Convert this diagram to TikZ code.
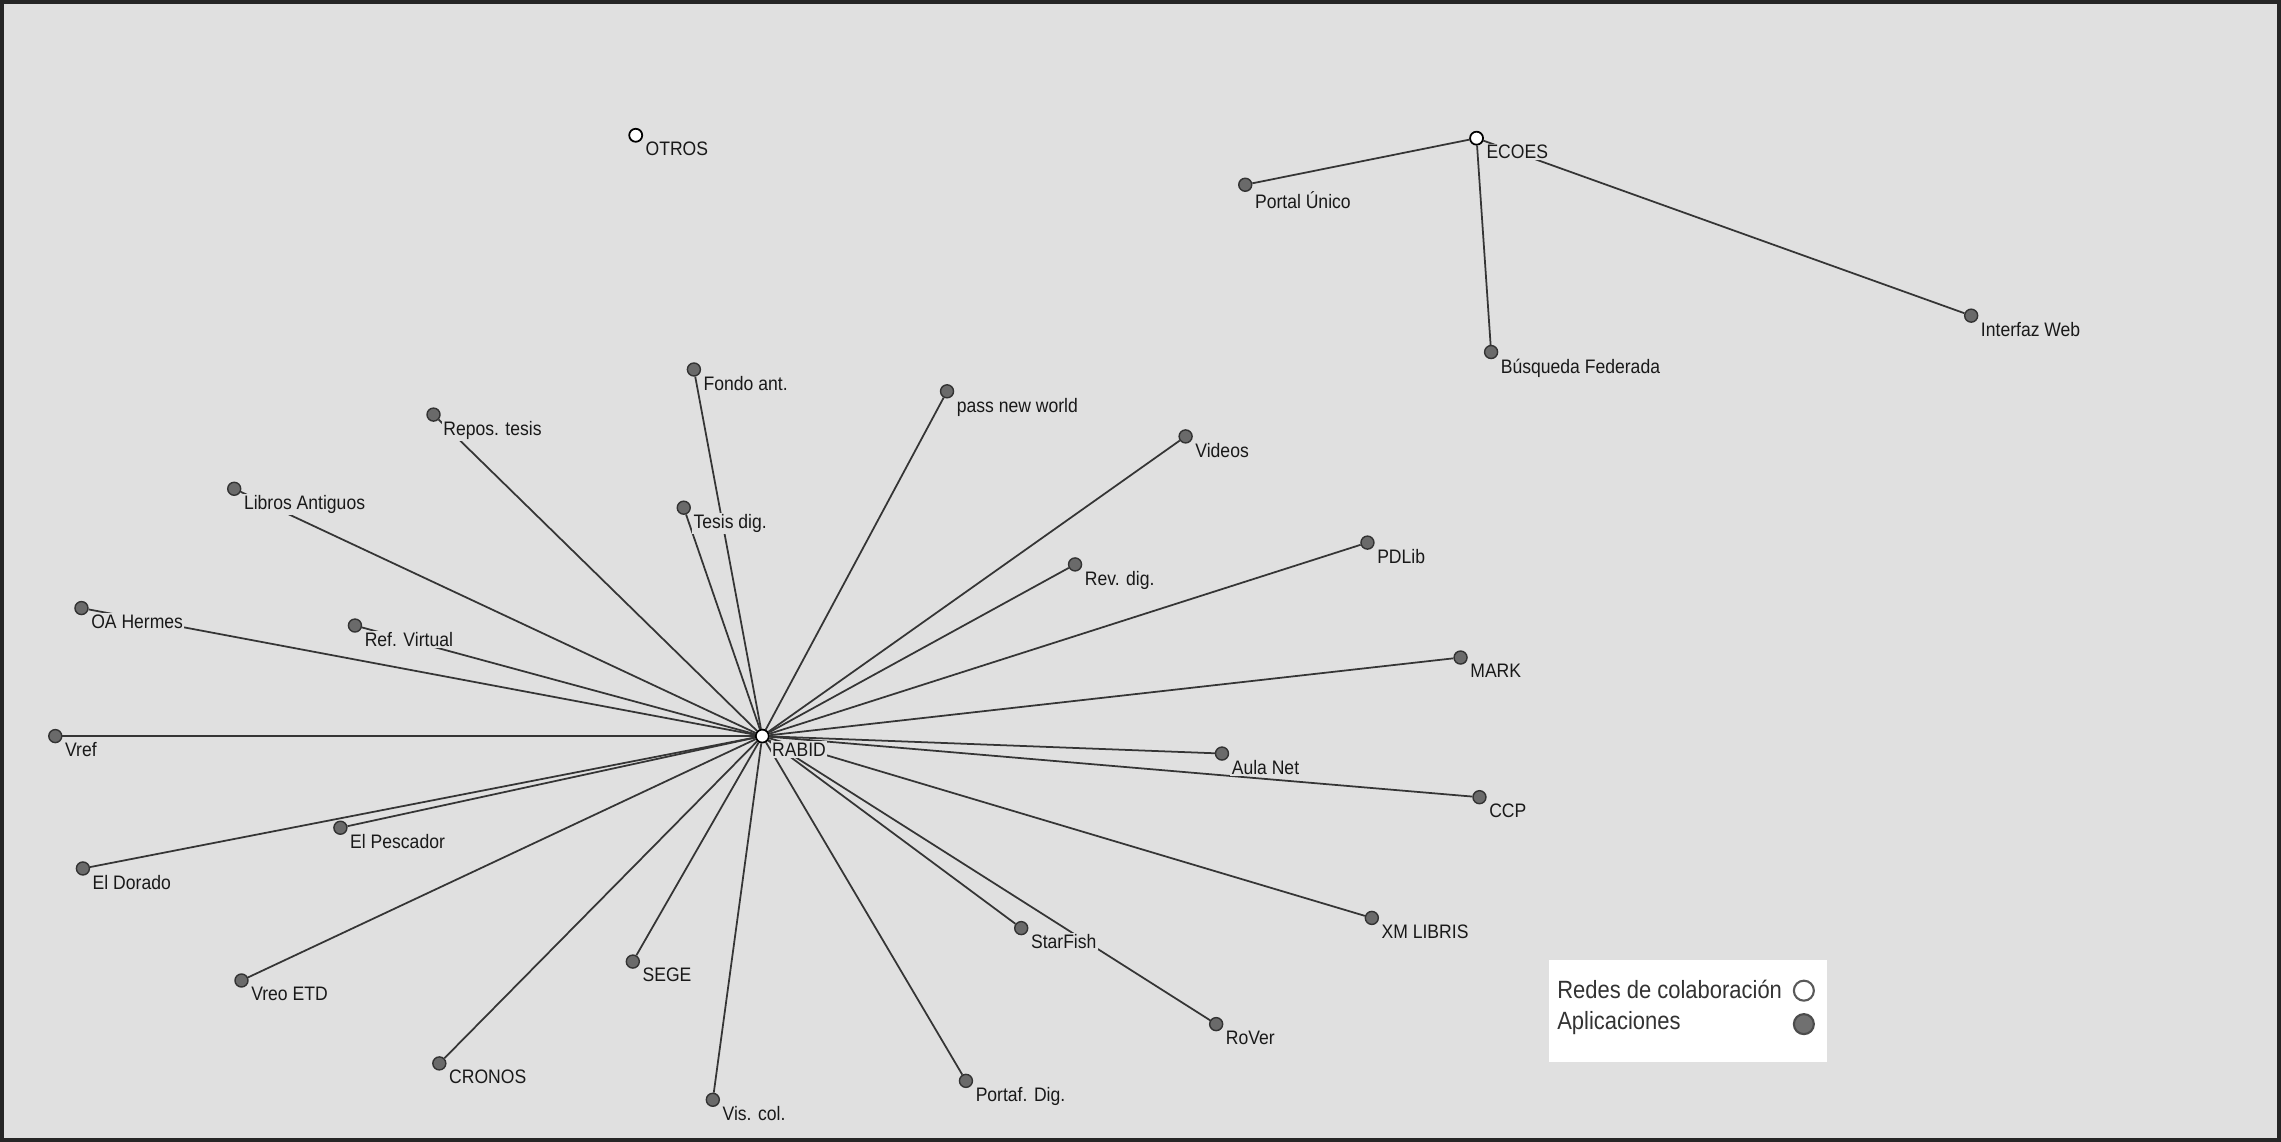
\documentclass[tikz,border=0pt]{standalone}
\usepackage{fontspec}
\setmainfont{Liberation Sans}
\newfontfamily\netfont[FakeStretch=0.9]{Liberation Sans}
\newfontfamily\legfont[FakeStretch=0.88]{Liberation Sans}
\usetikzlibrary{positioning, backgrounds}
\definecolor{canvas}{HTML}{E0E0E0}
\definecolor{edgegray}{HTML}{353535}
\definecolor{appgray}{HTML}{6A6A6A}
\definecolor{leggray}{HTML}{707070}

\begin{document}
\begin{tikzpicture}[x=0.014547cm, y=-0.014547cm,
  netnode/.style={circle, draw=black, fill=white, line width=0.5pt, minimum size=0.13cm, inner sep=0pt},
  appnode/.style={circle, draw=black!80, fill=appgray, line width=0.4pt, minimum size=0.13cm, inner sep=0pt},
  lab/.style={font=\netfont\fontsize{5.55}{6}\selectfont, fill=canvas, inner sep=0.4pt, label distance=0.2pt, xshift=0.6pt, yshift=0.3pt, text=black!90},
  link/.style={draw=edgegray, line width=0.5pt},
  legtext/.style={font=\legfont\fontsize{7.1}{8}\selectfont, text=black!80, inner sep=0pt, anchor=west},
  legdot/.style={circle, line width=0.6pt, minimum size=0.2cm, inner sep=0pt}
]
\useasboundingbox (0,0) rectangle (1568,785);

\node[netnode, label={[lab]south east:OTROS}] (otros) at (437,93) {};
\node[netnode, label={[lab]south east:ECOES}] (ecoes) at (1015,95) {};
\node[appnode, label={[lab]south east:Portal Único}] (portal) at (856,127) {};
\node[appnode, label={[lab]south east:Búsqueda Federada}] (busqueda) at (1025,242) {};
\node[appnode, label={[lab]south east:Interfaz Web}] (interfaz) at (1355,217) {};

\node[netnode, label={[lab]south east:RABID}] (rabid) at (524,506) {};
\node[appnode, label={[lab]south east:Fondo ant.}] (fondo) at (477,254) {};
\node[appnode, label={[lab]south east:pass new world}] (pass) at (651,269) {};
\node[appnode, label={[lab]south east:Repos. tesis}] (repos) at (298,285) {};
\node[appnode, label={[lab]south east:Videos}] (videos) at (815,300) {};
\node[appnode, label={[lab]south east:Libros Antiguos}] (libros) at (161,336) {};
\node[appnode, label={[lab]south east:Tesis dig.}] (tesis) at (470,349) {};
\node[appnode, label={[lab]south east:PDLib}] (pdlib) at (940,373) {};
\node[appnode, label={[lab]south east:Rev. dig.}] (revdig) at (739,388) {};
\node[appnode, label={[lab]south east:OA Hermes}] (hermes) at (56,418) {};
\node[appnode, label={[lab]south east:Ref. Virtual}] (refvirt) at (244,430) {};
\node[appnode, label={[lab]south east:MARK}] (mark) at (1004,452) {};
\node[appnode, label={[lab]south east:Vref}] (vref) at (38,506) {};
\node[appnode, label={[lab]south east:Aula Net}] (aula) at (840,518) {};
\node[appnode, label={[lab]south east:CCP}] (ccp) at (1017,548) {};
\node[appnode, label={[lab]south east:El Pescador}] (pescador) at (234,569) {};
\node[appnode, label={[lab]south east:El Dorado}] (dorado) at (57,597) {};
\node[appnode, label={[lab]south east:XM LIBRIS}] (xmlibris) at (943,631) {};
\node[appnode, label={[lab]south east:StarFish}] (starfish) at (702,638) {};
\node[appnode, label={[lab]south east:SEGE}] (sege) at (435,661) {};
\node[appnode, label={[lab]south east:Vreo ETD}] (vreo) at (166,674) {};
\node[appnode, label={[lab]south east:RoVer}] (rover) at (836,704) {};
\node[appnode, label={[lab]south east:CRONOS}] (cronos) at (302,731) {};
\node[appnode, label={[lab]south east:Portaf. Dig.}] (portaf) at (664,743) {};
\node[appnode, label={[lab]south east:Vis. col.}] (viscol) at (490,756) {};

\begin{scope}[on background layer]
\fill[canvas] (0,0) rectangle (1568,785);
\draw[link] (ecoes) -- (portal);
\draw[link] (ecoes) -- (busqueda);
\draw[link] (ecoes) -- (interfaz);
\draw[link] (rabid) -- (fondo);
\draw[link] (rabid) -- (pass);
\draw[link] (rabid) -- (repos);
\draw[link] (rabid) -- (videos);
\draw[link] (rabid) -- (libros);
\draw[link] (rabid) -- (tesis);
\draw[link] (rabid) -- (pdlib);
\draw[link] (rabid) -- (revdig);
\draw[link] (rabid) -- (hermes);
\draw[link] (rabid) -- (refvirt);
\draw[link] (rabid) -- (mark);
\draw[link] (rabid) -- (vref);
\draw[link] (rabid) -- (aula);
\draw[link] (rabid) -- (ccp);
\draw[link] (rabid) -- (pescador);
\draw[link] (rabid) -- (dorado);
\draw[link] (rabid) -- (xmlibris);
\draw[link] (rabid) -- (starfish);
\draw[link] (rabid) -- (sege);
\draw[link] (rabid) -- (vreo);
\draw[link] (rabid) -- (rover);
\draw[link] (rabid) -- (cronos);
\draw[link] (rabid) -- (portaf);
\draw[link] (rabid) -- (viscol);
\end{scope}

\node[fill=white, minimum width=2.778cm, minimum height=1.018cm, inner sep=0pt] (legend) at (1160.5,695) {};
\node[legtext] (legnet) at (1070,680) {Redes de colaboración};
\node[legtext] (legapp) at (1070,703) {Aplicaciones};
\node[legdot, draw=black!65, fill=white] (legnetdot) at (1240,681) {};
\node[legdot, draw=black!70, fill=leggray] (legappdot) at (1240,704) {};

\draw[line width=1.3pt, black!85] (1,1) rectangle (1567,784);
\end{tikzpicture}
\end{document}
